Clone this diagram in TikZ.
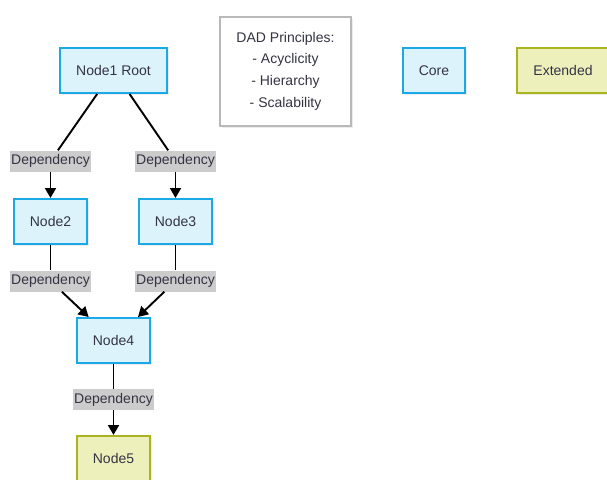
\documentclass[tikz,border=0pt]{standalone}
\usepackage{fontspec}
\setmainfont{Liberation Sans}
\usetikzlibrary{arrows.meta}
\usetikzlibrary{shadows}

\definecolor{corefill}{HTML}{DDF3FB}
\definecolor{coreline}{HTML}{1BA8E6}
\definecolor{extfill}{HTML}{EEF0BC}
\definecolor{extline}{HTML}{A9B41E}
\definecolor{txt}{HTML}{333344}

\begin{document}
\begin{tikzpicture}[x=1pt,y=-1pt,
    every node/.style={font=\fontsize{14}{21.7}\selectfont, text=txt},
    box/.style={line width=2pt, minimum height=45pt,
      drop shadow={opacity=0.15, shadow xshift=2pt, shadow yshift=-2pt}},
    core/.style={box, draw=coreline, fill=corefill},
    ext/.style={box, draw=extline, fill=extfill},
    dep/.style={fill=gray!40, inner xsep=1pt, minimum height=21pt},
    arr/.style={line width=1.9pt, -{Triangle[length=10pt,width=11pt]}},
    ln/.style={line width=1.9pt}]
                \useasboundingbox (0,0) rectangle (607,479);
                \node[core, minimum width=107pt] (N1) at (113.5,70.5) {Node1 Root};
                \node[core, minimum width=73pt] (N2) at (50.5,221.5) {Node2};
                \node[core, minimum width=73pt] (N3) at (175.5,221.5) {Node3};
                \node[core, minimum width=73pt] (N4) at (113.5,340.5) {Node4};
                \node[ext, minimum width=73pt] (N5) at (113.5,458.5) {Node5};
                \node[box, draw=gray!55, fill=white, minimum width=131pt, minimum height=109pt, align=center] (P) at (285.5,71) {DAD Principles:\\- Acyclicity\\- Hierarchy\\- Scalability};
                \node[core, minimum width=62pt] (C) at (434,70.5) {Core};
                \node[ext, minimum width=92pt] (E) at (563,70.5) {Extended};
                % labels on the edges
                \node[dep] (D12) at (50.5,161) {Dependency};
                \node[dep] (D13) at (175.5,161) {Dependency};
                \node[dep] (D24) at (50.5,281) {Dependency};
                \node[dep] (D34) at (175.5,281) {Dependency};
                \node[dep] (D45) at (113.5,399.5) {Dependency};
                \draw[ln] (N1) to (D12);
                \draw[arr] (D12) to (N2);
                \draw[ln] (N1) to (D13);
                \draw[arr] (D13) to (N3);
                \draw[ln] (N2) to (D24);
                \draw[arr] (D24) to (N4);
                \draw[ln] (N3) to (D34);
                \draw[arr] (D34) to (N4);
                \draw[ln] (N4) to (D45);
                \draw[arr] (D45) to (N5);
            \end{tikzpicture}
\end{document}
